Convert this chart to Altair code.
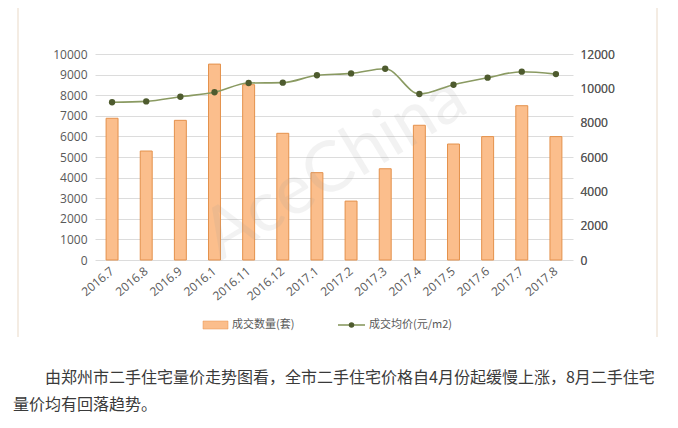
import altair as alt
import pandas as pd

# ---- data ----
months = ["2016.7", "2016.8", "2016.9", "2016.10", "2016.11", "2016.12",
          "2017.1", "2017.2", "2017.3", "2017.4", "2017.5", "2017.6",
          "2017.7", "2017.8"]
tick_labels = ["2016.7", "2016.8", "2016.9", "2016.1", "2016.11", "2016.12",
               "2017.1", "2017.2", "2017.3", "2017.4", "2017.5", "2017.6",
               "2017.7", "2017.8"]
volume = [6880, 5290, 6780, 9510, 8510, 6150, 4240, 2860, 4430, 6540, 5630,
          5990, 7490, 5990]
price = [9190, 9240, 9510, 9770, 10310, 10330, 10760, 10870, 11140, 9670,
         10210, 10620, 10970, 10830]

bar_label = "成交数量(套)"
line_label = "成交均价(元/m2)"
caption1 = "由郑州市二手住宅量价走势图看，全市二手住宅价格自4月份起缓慢上涨，8月二手住宅"
caption2 = "量价均有回落趋势。"
watermark = "AceChina"

df = pd.DataFrame({"month": months, "volume": volume, "price": price})

label_expr = "[" + ",".join(f"'{t}'" for t in tick_labels) + "][indexof([" + \
    ",".join(f"'{m}'" for m in months) + "], datum.value)]"

AXIS_FONT = "Open Sans"
GRAY = "#595959"

x_enc = alt.X("month:N", sort=months, title=None,
              scale=alt.Scale(paddingInner=0.65, paddingOuter=0.325),
              axis=alt.Axis(labelAngle=-40, labelAlign="right", labelBaseline="middle",
                            labelPadding=9, labelFontSize=12, labelColor=GRAY,
                            labelFont=AXIS_FONT, domain=False, ticks=False,
                            labelExpr=label_expr))

bars = alt.Chart(df).mark_bar(color="#FBBE8C", stroke="#E4914C", strokeWidth=1).encode(
    x=x_enc,
    y=alt.Y("volume:Q", title=None,
            scale=alt.Scale(domain=[0, 10000]),
            axis=alt.Axis(values=list(range(0, 10001, 1000)), format="d",
                          labelFontSize=12, labelColor=GRAY, labelFont=AXIS_FONT,
                          domain=False, ticks=False, labelPadding=8,
                          gridColor="#DCDCDC", gridWidth=1)),
)

price_y = alt.Y("price:Q", title=None,
                scale=alt.Scale(domain=[0, 12000]),
                axis=alt.Axis(orient="right", values=list(range(0, 12001, 2000)),
                              format="d", labelFontSize=12, labelColor=GRAY,
                              labelFont=AXIS_FONT, domain=False, ticks=False,
                              grid=False, labelPadding=7))

line = alt.Chart(df).mark_line(color="#8A9A62", strokeWidth=1.6,
                               interpolate="monotone").encode(x=x_enc, y=price_y)
pts = alt.Chart(df).mark_circle(color="#4E5B2E", size=40, opacity=1).encode(
    x=x_enc, y=price_y)

one = pd.DataFrame({"k": [0]})

wm = alt.Chart(one).mark_text(text=watermark, fontSize=70, font="Lato", angle=329,
                              color="#9a9a9a", opacity=0.12, align="center",
                              baseline="middle").encode(
    x=alt.value(240), y=alt.value(114))

# legend
leg_rect = alt.Chart(one).mark_rect(color="#FBBE8C", stroke="#E4914C",
                                    strokeWidth=0.5).encode(
    x=alt.value(108), x2=alt.value(133), y=alt.value(267), y2=alt.value(275))
leg_t1 = alt.Chart(one).mark_text(text=bar_label, fontSize=11, color=GRAY,
                                  font="Noto Sans CJK SC", align="left",
                                  baseline="middle").encode(
    x=alt.value(137), y=alt.value(271))
leg_line = alt.Chart(one).mark_rule(color="#8A9A62", strokeWidth=1.6).encode(
    x=alt.value(243), x2=alt.value(270), y=alt.value(271))
leg_dot = alt.Chart(one).mark_circle(color="#4E5B2E", size=30, opacity=1).encode(
    x=alt.value(256.5), y=alt.value(271))
leg_t2 = alt.Chart(one).mark_text(text=line_label, fontSize=11, color=GRAY,
                                  font="Noto Sans CJK SC", align="left",
                                  baseline="middle").encode(
    x=alt.value(274), y=alt.value(271))

# panel borders
panel_l = alt.Chart(one).mark_rule(color="#F1E6DA", strokeWidth=1.5).encode(
    x=alt.value(-77), y=alt.value(-46), y2=alt.value(283))
panel_r = alt.Chart(one).mark_rule(color="#F1E6DA", strokeWidth=1.5).encode(
    x=alt.value(562), y=alt.value(-46), y2=alt.value(283))

cap1 = alt.Chart(one).mark_text(text=caption1, fontSize=16, color="#3A3A3A",
                                font="Noto Sans CJK SC", align="left",
                                baseline="middle").encode(
    x=alt.value(-50), y=alt.value(324))
cap2 = alt.Chart(one).mark_text(text=caption2, fontSize=16, color="#3A3A3A",
                                font="Noto Sans CJK SC", align="left",
                                baseline="middle").encode(
    x=alt.value(-82), y=alt.value(351))

chart = alt.layer(
    alt.layer(bars, wm, line, pts).resolve_scale(y="independent"),
    leg_rect, leg_t1, leg_line, leg_dot, leg_t2, panel_l, panel_r, cap1, cap2,
).properties(
    width=478, height=206,
    autosize=alt.AutoSizeParams(type="none"),
    padding={"left": 87, "top": 46, "right": 97, "bottom": 160},
    background="white",
).configure_view(stroke=None)

chart.save("out.html", embed_options={"renderer": "svg", "actions": False})
